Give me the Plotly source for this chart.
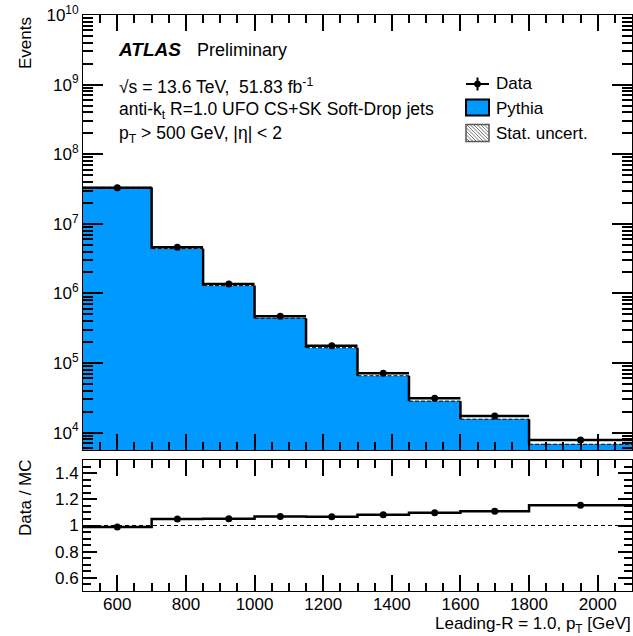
import numpy as np
import plotly.graph_objects as go

# ---------------- data ----------------
bin_edges = [500, 700, 850, 1000, 1150, 1300, 1450, 1600, 1800, 2100]
data_events = [3.30e7, 4.62e6, 1.36e6, 4.70e5, 1.77e5, 7.10e4, 3.11e4, 1.73e4, 7.85e3]
mc_events = [3.34e7, 4.40e6, 1.294e6, 4.40e5, 1.66e5, 6.56e4, 2.835e4, 1.559e4, 6.80e3]
y_exponents = [4, 5, 6, 7, 8, 9, 10]

edges = np.array(bin_edges, dtype=float)
centers = 0.5 * (edges[:-1] + edges[1:])
widths = edges[1:] - edges[:-1]
data = np.array(data_events)
mc = np.array(mc_events)
ratio = data / mc

# ---------------- geometry ----------------
W, H = 633, 636
L, R, T, B = 83, 1, 15, 45
PW, PH = W - L - R, H - T - B
top_y0, top_y1 = 15, 450      # px
rat_y0, rat_y1 = 460, 591
YLOG_RANGE = [3.75, 10]


def px(x):
    return (x - L) / PW


def py(y):
    return (H - B - y) / PH


FONT = "Liberation Sans, Arial, Helvetica, sans-serif"
BLUE = "#0099ff"
TW = 1.5

fig = go.Figure()

# MC filled histogram
fig.add_trace(go.Bar(x=centers, y=mc, width=widths, marker=dict(color=BLUE, line=dict(width=0)),
                     xaxis="x", yaxis="y", showlegend=False, hoverinfo="skip"))

# MC outline: dashed horizontals, solid verticals
hx, hy = [], []
for i in range(len(mc)):
    hx += [edges[i], edges[i + 1], None]
    hy += [mc[i], mc[i], None]
fig.add_trace(go.Scatter(x=hx, y=hy, mode="lines", line=dict(color="black", width=1, dash="4px,2px"),
                         xaxis="x", yaxis="y", showlegend=False, hoverinfo="skip"))
vx, vy = [], []
for i in range(len(mc) - 1):
    vx += [edges[i + 1], edges[i + 1], None]
    vy += [mc[i], mc[i + 1], None]
fig.add_trace(go.Scatter(x=vx, y=vy, mode="lines", line=dict(color="black", width=2.5),
                         xaxis="x", yaxis="y", showlegend=False, hoverinfo="skip"))

# Data points
fig.add_trace(go.Scatter(x=centers, y=data, mode="markers",
                         marker=dict(color="black", size=7),
                         error_x=dict(type="data", array=widths / 2, thickness=2.5, width=0, color="black"),
                         error_y=dict(type="data", array=np.sqrt(data), thickness=2, width=0, color="black"),
                         xaxis="x", yaxis="y", showlegend=False, hoverinfo="skip"))

# invisible carrier trace for the overlay axis that draws the minor log ticks
fig.add_trace(go.Scatter(x=[centers[0]], y=[mc[0]], mode="markers", marker=dict(opacity=0),
                         xaxis="x", yaxis="y3", showlegend=False, hoverinfo="skip"))

# Ratio panel
fig.add_trace(go.Scatter(x=list(edges), y=list(ratio) + [ratio[-1]], mode="lines", line_shape="hv",
                         line=dict(color="black", width=2.5),
                         xaxis="x2", yaxis="y2", showlegend=False, hoverinfo="skip"))
fig.add_trace(go.Scatter(x=centers, y=ratio, mode="markers", marker=dict(color="black", size=7),
                         xaxis="x2", yaxis="y2", showlegend=False, hoverinfo="skip"))

shapes = []
shapes.append(dict(type="line", xref="x2 domain", yref="y2", x0=0, x1=1, y0=1, y1=1,
                   line=dict(color="black", width=1, dash="4px,3px"), layer="below"))

dom_top = [py(top_y1), py(top_y0)]
dom_rat = [py(rat_y1), py(rat_y0)]

axis_common = dict(showline=True, linecolor="black", linewidth=1, mirror="ticks", ticks="inside",
                   tickcolor="black", tickwidth=TW, showgrid=False, zeroline=False, automargin=False,
                   tickfont=dict(family=FONT, size=17, color="black"))

major_vals = [10.0 ** e for e in y_exponents]
major_text = ["10<sup>%d</sup>" % e for e in y_exponents]
minor_vals = [m * 10.0 ** e for e in range(3, 10) for m in range(2, 10)]

fig.update_layout(
    width=W, height=H,
    margin=dict(l=L, r=R, t=T, b=B),
    paper_bgcolor="white", plot_bgcolor="white",
    bargap=0, barmode="overlay",
    showlegend=False,
    font=dict(family=FONT, size=17, color="black"),
    xaxis=dict(domain=[0, 1], range=[500, 2100], anchor="y", showticklabels=False,
               tick0=0, dtick=200, ticklen=16,
               minor=dict(ticks="inside", ticklen=8, dtick=50, tickcolor="black", tickwidth=TW, showgrid=False),
               **axis_common),
    yaxis=dict(domain=dom_top, type="log", range=YLOG_RANGE, anchor="x",
               tickmode="array", tickvals=major_vals, ticktext=major_text, ticklen=20,
               **axis_common),
    yaxis3=dict(overlaying="y", type="log", range=YLOG_RANGE, anchor="x", side="left",
                tickmode="array", tickvals=minor_vals, showticklabels=False, ticklen=10,
                showline=True, linecolor="black", linewidth=1, mirror="ticks", ticks="inside",
                tickcolor="black", tickwidth=TW, showgrid=False, zeroline=False, automargin=False),
    xaxis2=dict(domain=[0, 1], range=[500, 2100], anchor="y2", matches="x",
                tick0=0, dtick=200, ticklen=16, ticklabelstandoff=-2,
                minor=dict(ticks="inside", ticklen=8, dtick=50, tickcolor="black", tickwidth=TW, showgrid=False),
                **axis_common),
    yaxis2=dict(domain=dom_rat, range=[0.5, 1.5], anchor="x2", tick0=0, dtick=0.2, ticklen=14,
                minor=dict(ticks="inside", ticklen=8, dtick=0.05, tickcolor="black", tickwidth=TW, showgrid=False),
                **axis_common),
)

# ---------------- text ----------------
ann = []


def text(x, y, s, size=17, xanchor="left", yanchor="middle", angle=0, **kw):
    ann.append(dict(x=px(x), y=py(y), xref="paper", yref="paper", text=s, showarrow=False,
                    xanchor=xanchor, yanchor=yanchor, textangle=angle,
                    font=dict(family=FONT, size=size, color="black"), **kw))


text(116, 50, "<b><i>ATLAS</i></b>", size=19)
text(195, 50, "Preliminary", size=18)
text(117, 86, "√s = 13.6 TeV,\u00a0 51.83 fb<sup>-1</sup>", size=17.5)
text(117, 110, "anti-k<sub>t</sub> R=1.0 UFO CS+SK Soft-Drop jets", size=17.5)
text(117, 134, "p<sub>T</sub> > 500 GeV, |η| &lt; 2", size=17.5)

text(25, 15, "Events", angle=-90, xanchor="center", yanchor="top")
text(25, 498, "Data / MC", angle=-90, xanchor="center")
text(633, 625, "Leading-R = 1.0, p<sub>T</sub> [GeV]", xanchor="right")

# ---------------- legend (manual) ----------------
text(494, 84, "Data")
text(494, 108, "Pythia")
text(494, 133, "Stat. uncert.")


def pline(x0, y0, x1, y1, color="black", width=1.5):
    shapes.append(dict(type="line", xref="paper", yref="paper", x0=px(x0), y0=py(y0), x1=px(x1), y1=py(y1),
                       line=dict(color=color, width=width)))


# Data symbol
pline(466, 84, 489, 84, width=2)
pline(477.5, 77.5, 477.5, 90.5, width=2)
shapes.append(dict(type="circle", xref="paper", yref="paper", x0=px(474.5), x1=px(480.5), y0=py(81), y1=py(87),
                   fillcolor="black", line=dict(color="black", width=1)))
# Pythia box
shapes.append(dict(type="rect", xref="paper", yref="paper", x0=px(466), x1=px(489), y0=py(99.5), y1=py(115.5),
                   fillcolor=BLUE, line=dict(color="black", width=2)))
# Stat. uncert. hatched box
bx0, bx1, by0, by1 = 466, 489, 124.5, 141.5
for c in np.arange(bx0 - (by1 - by0), bx1 + 1, 3.5):
    x_start = max(c, bx0)
    x_end = min(c + (by1 - by0), bx1)
    if x_end <= x_start:
        continue
    pline(x_start, by0 + (x_start - c), x_end, by0 + (x_end - c), color="#555555", width=0.8)
shapes.append(dict(type="rect", xref="paper", yref="paper", x0=px(bx0), x1=px(bx1), y0=py(by0), y1=py(by1),
                   fillcolor="rgba(0,0,0,0)", line=dict(color="#555555", width=1.5)))

fig.update_layout(annotations=ann, shapes=shapes)

fig.write_html("out.html")
